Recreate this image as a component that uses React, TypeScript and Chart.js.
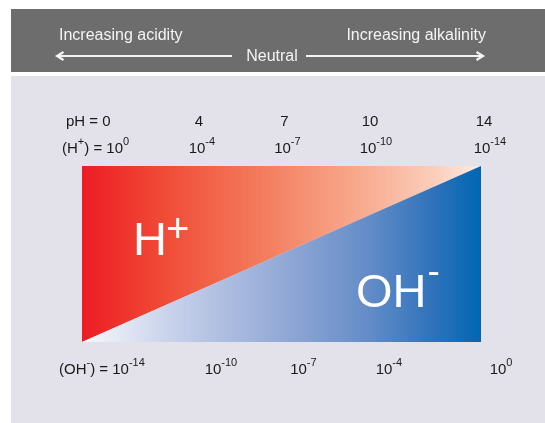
import { useEffect, useRef } from "react";
import { Chart, registerables } from "chart.js";

Chart.register(...registerables);

// ---- data ----
const phTicks = [0, 4, 7, 10, 14];
const phLabels = ["pH = 0", "4", "7", "10", "14"];
const hExponents = ["0", "-4", "-7", "-10", "-14"];
const ohExponents = ["-14", "-10", "-7", "-4", "0"];
const splitPh = [0, 14];
const splitShare = [0, 1];
const headerLeft = "Increasing acidity";
const headerRight = "Increasing alkalinity";
const headerMid = "Neutral";

const FONT = '"Liberation Sans", Arial, Helvetica, sans-serif';

type Seg = { t: string; sup?: boolean };

function richWidth(ctx: CanvasRenderingContext2D, segs: Seg[], size: number, supSize: number) {
  let w = 0;
  for (const s of segs) {
    ctx.font = `${s.sup ? supSize : size}px ${FONT}`;
    w += ctx.measureText(s.t).width;
  }
  return w;
}

function drawRich(ctx: CanvasRenderingContext2D, segs: Seg[], x: number, y: number, size: number, supSize: number, rise: number) {
  let cx = x;
  ctx.textAlign = "left";
  ctx.textBaseline = "alphabetic";
  for (const s of segs) {
    ctx.font = `${s.sup ? supSize : size}px ${FONT}`;
    ctx.fillText(s.t, cx, s.sup ? y - rise : y);
    cx += ctx.measureText(s.t).width;
  }
}

function gradient(chart: any, stops: [number, string][], fallback: string) {
  const area = chart.chartArea;
  if (!area) return fallback;
  const g = chart.ctx.createLinearGradient(area.left, 0, area.right, 0);
  for (const [o, c] of stops) g.addColorStop(o, c);
  return g;
}

const redStops: [number, string][] = [
  [0, "#ed1c24"],
  [0.2, "#f04a36"],
  [0.45, "#f37c5d"],
  [0.7, "#f8ab8f"],
  [0.88, "#fbcdb9"],
  [1, "#fdece3"],
];
const blueStops: [number, string][] = [
  [0, "#f7f8fc"],
  [0.25, "#c2cde8"],
  [0.5, "#93a9d6"],
  [0.72, "#638cc7"],
  [0.88, "#2f72ba"],
  [1, "#0066b3"],
];

const decorPlugin = {
  id: "decor",
  beforeDraw(chart: any) {
    const ctx: CanvasRenderingContext2D = chart.ctx;
    ctx.save();
    ctx.fillStyle = "#ffffff";
    ctx.fillRect(0, 0, chart.width, chart.height);
    ctx.fillStyle = "#6d6d6d";
    ctx.fillRect(11, 9, chart.width - 11, 63);
    ctx.fillStyle = "#e3e1ea";
    ctx.fillRect(11, 76, chart.width - 11, chart.height - 76);

    // header texts
    ctx.fillStyle = "#f4f4f4";
    ctx.font = `16px ${FONT}`;
    ctx.textBaseline = "alphabetic";
    ctx.textAlign = "left";
    ctx.fillText(headerLeft, 59, 40);
    ctx.textAlign = "right";
    ctx.fillText(headerRight, 486, 40);
    ctx.textAlign = "center";
    ctx.fillText(headerMid, 272, 61);

    // arrows
    ctx.strokeStyle = "#f4f4f4";
    ctx.lineWidth = 2;
    ctx.lineCap = "butt";
    ctx.beginPath();
    ctx.moveTo(58, 56);
    ctx.lineTo(232, 56);
    ctx.moveTo(306, 56);
    ctx.lineTo(482, 56);
    ctx.stroke();
    ctx.lineJoin = "miter";
    ctx.lineWidth = 2.2;
    ctx.beginPath();
    ctx.moveTo(63.5, 52);
    ctx.lineTo(57, 56);
    ctx.lineTo(63.5, 60);
    ctx.moveTo(476.5, 52);
    ctx.lineTo(483, 56);
    ctx.lineTo(476.5, 60);
    ctx.stroke();
    ctx.restore();
  },
  afterDatasetsDraw(chart: any) {
    const ctx: CanvasRenderingContext2D = chart.ctx;
    const xs = chart.scales.x;
    const area = chart.chartArea;
    ctx.save();
    ctx.fillStyle = "#1a1a1a";
    const size = 15;
    const sup = 11;
    const rise = 8;

    // row 1: pH values
    phTicks.forEach((v, i) => {
      const px = xs.getPixelForValue(v);
      const segs: Seg[] = [{ t: phLabels[i] }];
      if (i === 0) {
        drawRich(ctx, segs, area.left - 16, 126, size, sup, rise);
      } else {
        const w = richWidth(ctx, segs, size, sup);
        drawRich(ctx, segs, px + 3 - w / 2, 126, size, sup, rise);
      }
    });

    // row 2: H+ concentration
    phTicks.forEach((v, i) => {
      const px = xs.getPixelForValue(v);
      if (i === 0) {
        const segs: Seg[] = [{ t: "(H" }, { t: "+", sup: true }, { t: ") = 10" }, { t: hExponents[i], sup: true }];
        drawRich(ctx, segs, area.left - 20, 153, size, sup, rise);
      } else {
        ctx.font = `${size}px ${FONT}`;
        const bw = ctx.measureText("10").width;
        drawRich(ctx, [{ t: "10" }, { t: hExponents[i], sup: true }], px + 1 - bw / 2, 153, size, sup, rise);
      }
    });

    // row 3: OH- concentration
    phTicks.forEach((v, i) => {
      const px = xs.getPixelForValue(v);
      if (i === 0) {
        const segs: Seg[] = [{ t: "(OH" }, { t: "-", sup: true }, { t: ") = 10" }, { t: ohExponents[i], sup: true }];
        drawRich(ctx, segs, area.left - 23, 374, size, sup, rise);
      } else {
        ctx.font = `${size}px ${FONT}`;
        const bw = ctx.measureText("10").width;
        drawRich(ctx, [{ t: "10" }, { t: ohExponents[i], sup: true }], px + 17 - bw / 2, 374, size, sup, rise);
      }
    });

    // big ion labels
    ctx.fillStyle = "#ffffff";
    ctx.textAlign = "left";
    ctx.font = `47px ${FONT}`;
    const hx = area.left + 51;
    ctx.fillText("H", hx, 255);
    const hw = ctx.measureText("H").width;
    ctx.font = `40px ${FONT}`;
    ctx.fillText("+", hx + hw - 1, 242);

    ctx.font = `47px ${FONT}`;
    const ox = area.left + 274;
    ctx.fillText("OH", ox, 307);
    const ow = ctx.measureText("OH").width;
    ctx.font = `37px ${FONT}`;
    ctx.fillText("-", ox + ow + 1, 283);
    ctx.restore();
  },
};

export default function App() {
  const ref = useRef<HTMLCanvasElement>(null);
  useEffect(() => {
    const points = splitPh.map((x, i) => ({ x, y: splitShare[i] }));
    const chart = new Chart(ref.current!, {
      type: "line",
      data: {
        datasets: [
          {
            label: "OH-",
            data: points,
            fill: "start",
            borderWidth: 0,
            pointRadius: 0,
            borderColor: "rgba(0,0,0,0)",
            backgroundColor: (c: any) => gradient(c.chart, blueStops, "#6f92cb"),
          },
          {
            label: "H+",
            data: points,
            fill: "end",
            borderWidth: 0,
            pointRadius: 0,
            borderColor: "rgba(0,0,0,0)",
            backgroundColor: (c: any) => gradient(c.chart, redStops, "#f47b5a"),
          },
        ],
      },
      options: {
        responsive: false,
        animation: false,
        devicePixelRatio: 1,
        layout: { padding: { left: 82, right: 64, top: 166, bottom: 81 } },
        scales: {
          x: { type: "linear", min: 0, max: 14, display: false },
          y: { type: "linear", min: 0, max: 1, display: false },
        },
        plugins: {
          legend: { display: false },
          tooltip: { enabled: false },
        },
      },
      plugins: [decorPlugin],
    } as any);
    return () => chart.destroy();
  }, []);
  return (
    <div style={{ position: "absolute", left: 0, top: 0, width: 545, height: 423 }}>
      <canvas ref={ref} width={545} height={423} style={{ display: "block", width: 545, height: 423 }} />
    </div>
  );
}
